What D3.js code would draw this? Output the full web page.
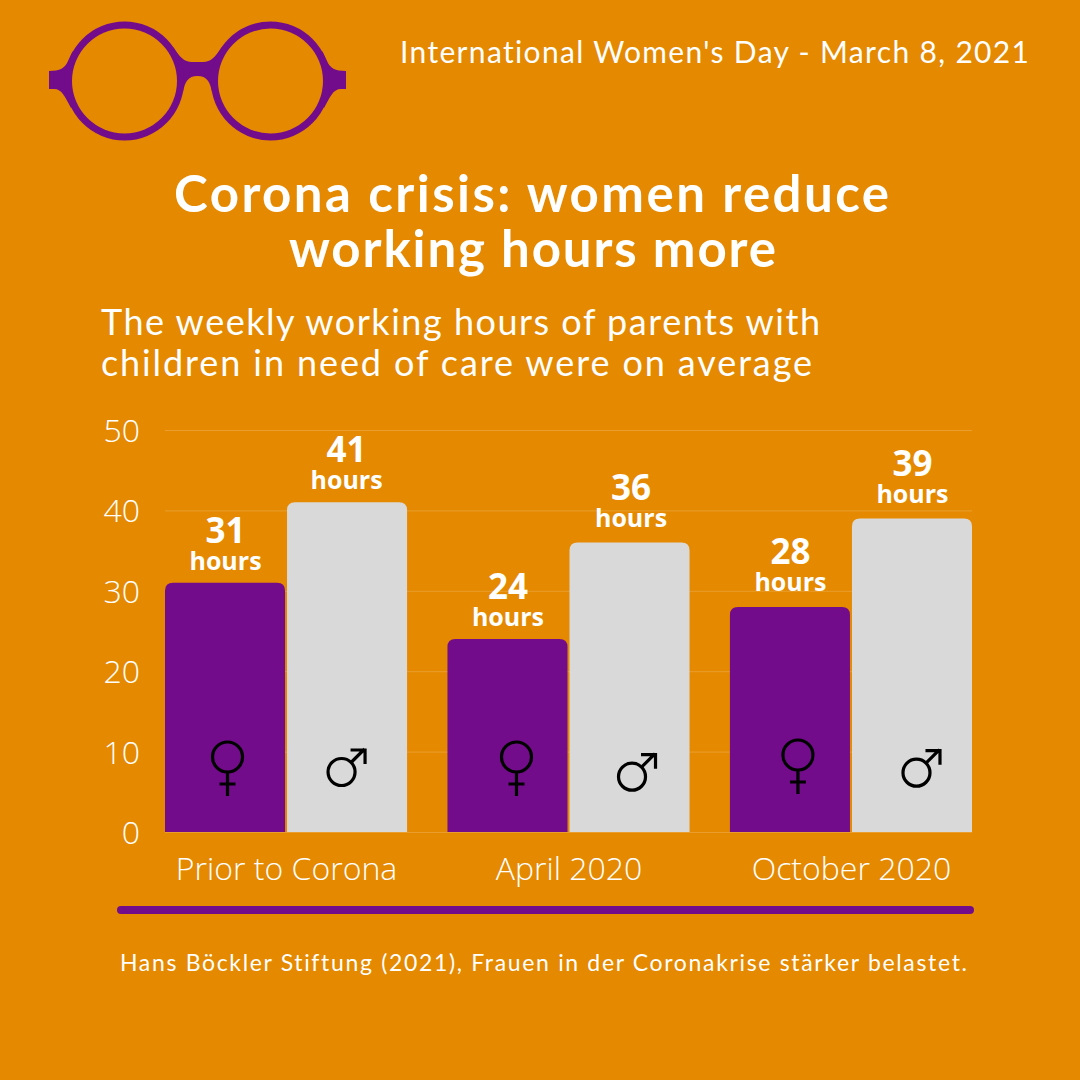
<!DOCTYPE html>
<html>
<head>
<meta charset="utf-8">
<script src="https://cdn.jsdelivr.net/npm/d3@7"></script>
<style>
  html, body { margin: 0; padding: 0; background: #e58900; }
  svg { display: block; }
  text { fill: #fff; font-variant-ligatures: none !important; }
</style>
</head>
<body>
<svg width="1080" height="1080"></svg>
<script>
const periods = ["Prior to Corona", "April 2020", "October 2020"];
const groups = ["women", "men"];
const women = [31, 24, 28];
const men = [41, 36, 39];
const yTicks = [0, 10, 20, 30, 40, 50];

const orange = "#e58900", purple = "#720c8b", grey = "#d9d9d9";

const svg = d3.select("svg");

const x = d3.scaleBand().domain(periods).range([165, 972]).paddingInner(0.143);
const xInner = d3.scaleBand().domain(groups).range([0, x.bandwidth()]);
const y = d3.scaleLinear().domain([0, 50]).range([832, 430]);

let rows = [];
periods.forEach(function(p, i) {
    rows.push({period: p, group: "women", value: women[i]});
    rows.push({period: p, group: "men", value: men[i]});
});

function barCenter(d) {
    return x(d.period) + xInner(d.group) + xInner.bandwidth() / 2;
}

// glasses
let glasses = svg.append("g").attr("fill", purple);
glasses.append("path")
    .attr("d", "M173,47 C180,57 184,62 192,62 L203,62 C211,62 215,57 222,47 L212,92 C210,82 207,76 197.5,76 C188,76 185,82 183,92 Z");
let armPath = "M49,71 C60,71 65,68 68,61 C70,57 71,54 73,51 L90,90 L71,108 C65,97 62,89 54,89 L49,89 Z";
glasses.append("path").attr("d", armPath);
glasses.append("path").attr("d", armPath).attr("transform", "translate(395,0) scale(-1,1)");
glasses.selectAll("circle.rim")
    .data([124.5, 270.5])
    .enter().append("circle")
    .attr("class", "rim")
    .attr("cx", function(d) { return d; })
    .attr("cy", 81)
    .attr("r", 59.5);
glasses.selectAll("circle.lens")
    .data([124.5, 270.5])
    .enter().append("circle")
    .attr("class", "lens")
    .attr("cx", function(d) { return d; })
    .attr("cy", 81)
    .attr("r", 52.5)
    .attr("fill", orange);

// headings
svg.append("text").attr("x", 400).attr("y", 63)
    .attr("textLength", 629)
    .style("font", "400 30px Lato")
    .text("International Women's Day - March 8, 2021");

svg.selectAll("text.title")
    .data(["Corona crisis: women reduce", "working hours more"])
    .enter().append("text")
    .attr("class", "title")
    .attr("x", function(d, i) { return [174, 289][i]; })
    .attr("y", function(d, i) { return 212 + i * 55; })
    .attr("textLength", function(d, i) { return [715, 487][i]; })
    .style("font", "700 51px Lato")
    .text(function(d) { return d; });

svg.selectAll("text.sub")
    .data(["The weekly working hours of parents with", "children in need of care were on average"])
    .enter().append("text")
    .attr("class", "sub")
    .attr("x", 101)
    .attr("y", function(d, i) { return 335 + i * 41; })
    .attr("textLength", function(d, i) { return [719, 711][i]; })
    .style("font", "400 36px Lato")
    .text(function(d) { return d; });

// y axis and grid
let yAxis = svg.append("g")
    .attr("transform", "translate(165,0)")
    .call(d3.axisLeft(y).tickValues(yTicks).tickSize(-807).tickPadding(25));
yAxis.select(".domain").remove();
yAxis.selectAll("line").attr("stroke", "#fff").attr("stroke-opacity", 0.18);
yAxis.selectAll("text").style("font", "300 32px 'Open Sans'").attr("fill", "#fff").attr("dy", "0.36em");

// bars, top corners rounded
function barPath(d) {
    let x0 = x(d.period) + xInner(d.group) + (d.group == "men" ? 1 : 0);
    let x1 = x(d.period) + xInner(d.group) + xInner.bandwidth() - (d.group == "women" ? 1 : 0);
    let y0 = y(d.value), y1 = y(0), r = 8;
    return "M" + x0 + "," + y1 + "V" + (y0 + r) + "Q" + x0 + "," + y0 + " " + (x0 + r) + "," + y0 +
        "H" + (x1 - r) + "Q" + x1 + "," + y0 + " " + x1 + "," + (y0 + r) + "V" + y1 + "Z";
}
svg.selectAll("path.bar")
    .data(rows)
    .enter().append("path")
    .attr("class", "bar")
    .attr("fill", function(d) { return d.group == "women" ? purple : grey; })
    .attr("d", barPath);

// value labels, placed by hand in the original so each is nudged a little
let labelShift = [[0, -1], [0, -1], [0, -1], [2, -4], [0, -4], [1, -3]];
let labels = svg.selectAll("g.value")
    .data(rows)
    .enter().append("g")
    .attr("class", "value")
    .attr("transform", function(d, i) {
        return "translate(" + (barCenter(d) + labelShift[i][0]) + "," + (y(d.value) + labelShift[i][1]) + ")";
    })
    .attr("text-anchor", "middle");
labels.append("text").attr("y", -39).style("font", "700 35px 'Open Sans'")
    .text(function(d) { return d.value; });
labels.append("text").attr("y", -12).style("font", "700 25px 'Open Sans'")
    .text("hours");

// gender symbols
let symbolShift = [[2, 0], [-5, 0], [8.5, 0], [3, 4.7], [7.5, -2], [5, 0.7]];
let symbols = svg.selectAll("g.symbol")
    .data(rows)
    .enter().append("g")
    .attr("class", "symbol")
    .attr("fill", "none")
    .attr("stroke", "#000")
    .attr("stroke-width", 3.2)
    .attr("transform", function(d, i) {
        let base = d.group == "women" ? 757 : 772;
        return "translate(" + (barCenter(d) + symbolShift[i][0]) + "," + (base + symbolShift[i][1]) + ")";
    });
symbols.filter(function(d) { return d.group == "women"; }).each(function() {
    let s = d3.select(this);
    s.append("circle").attr("r", 15);
    s.append("path").attr("d", "M0,15V39M-8,27H8");
});
symbols.filter(function(d) { return d.group == "men"; }).each(function() {
    let s = d3.select(this);
    s.append("circle").attr("r", 13.5);
    s.append("path").attr("d", "M10,-10L23,-23M9,-22H23.5V-8");
});

// x labels
svg.selectAll("text.period")
    .data(periods)
    .enter().append("text")
    .attr("class", "period")
    .attr("x", function(d) { return x(d) + x.bandwidth() / 2 + 0.5; })
    .attr("y", 880)
    .attr("text-anchor", "middle")
    .style("font", "300 32px 'Open Sans'")
    .text(function(d) { return d; });

// rule and source
svg.append("rect").attr("x", 117).attr("y", 906).attr("width", 857).attr("height", 8)
    .attr("rx", 4).attr("fill", purple);

svg.append("text").attr("x", 120).attr("y", 971)
    .attr("textLength", 847)
    .style("font", "400 23px Lato")
    .text("Hans Böckler Stiftung (2021), Frauen in der Coronakrise stärker belastet.");
</script>
</body>
</html>
